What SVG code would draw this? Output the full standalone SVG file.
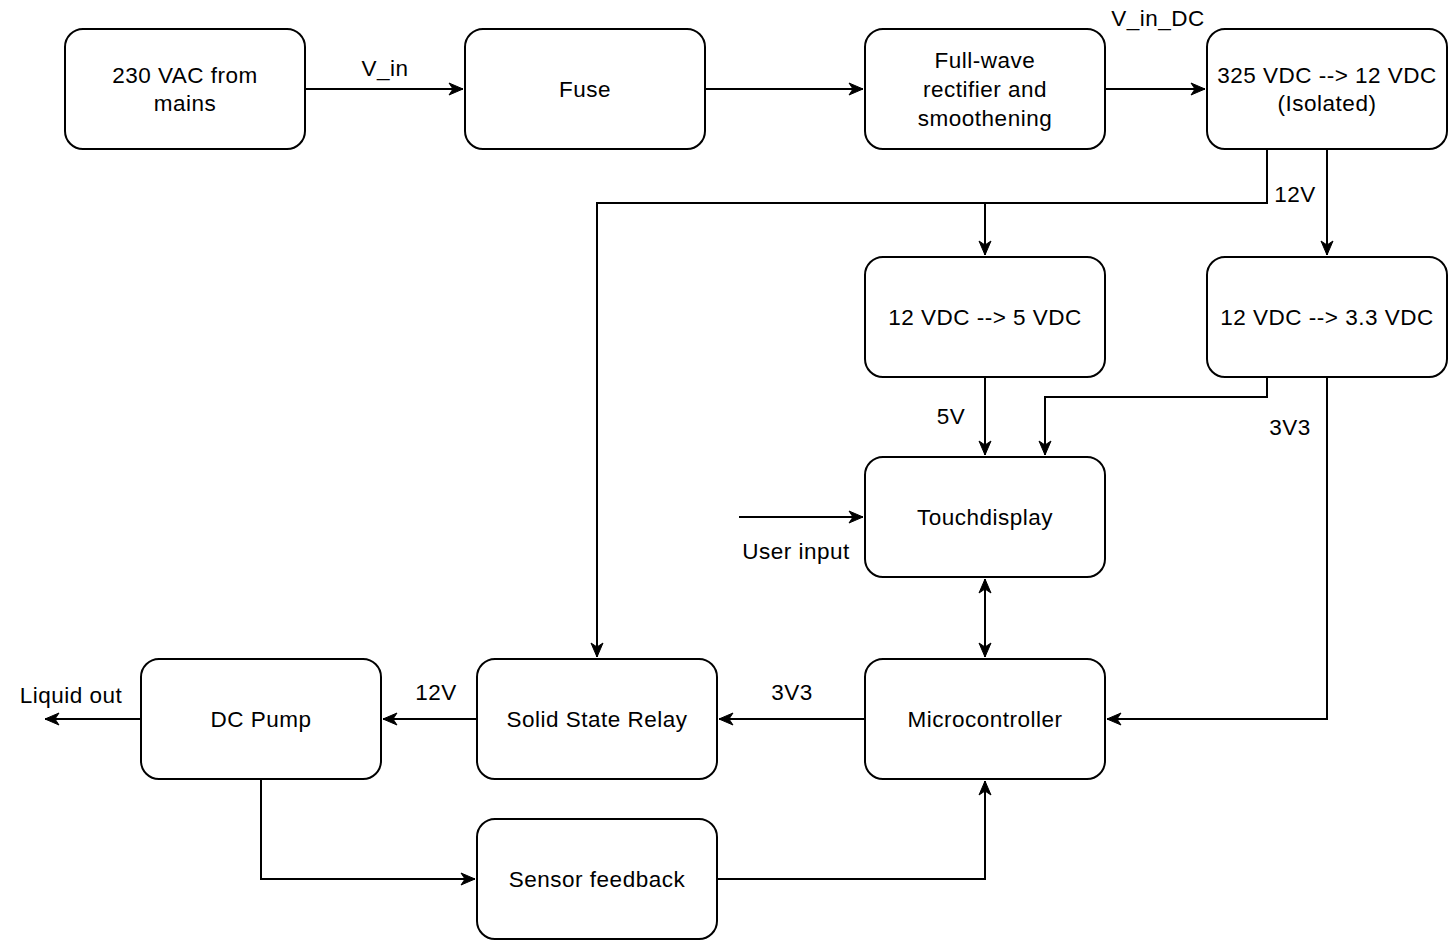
<svg xmlns="http://www.w3.org/2000/svg" width="1448" height="940" viewBox="0 0 1448 940">
<style>
.box{fill:#fff;stroke:#000;stroke-width:2}
.t{font-family:"Liberation Sans",Arial,sans-serif;font-size:22.5px;fill:#000;text-anchor:middle;letter-spacing:0.5px}
.c{fill:none;stroke:#000;stroke-width:2}
</style>
<defs>
<marker id="a" markerUnits="userSpaceOnUse" markerWidth="18" markerHeight="18" viewBox="0 0 18 18" refX="16" refY="9" orient="auto-start-reverse">
<path d="M2,3 L16,9 L2,15 L6,9 z" fill="#000" stroke="#000" stroke-width="1"/>
</marker>
</defs>
<rect width="1448" height="940" fill="#fff"/>
<g id="connectors">
<path class="c" d="M305,89 H463" marker-end="url(#a)"/>
<path class="c" d="M705,89 H863" marker-end="url(#a)"/>
<path class="c" d="M1105,89 H1205" marker-end="url(#a)"/>
<path class="c" d="M1267,149 V203 H597 V657" marker-end="url(#a)"/>
<path class="c" d="M985,203 V255" marker-end="url(#a)"/>
<path class="c" d="M1327,149 V255" marker-end="url(#a)"/>
<path class="c" d="M985,377 V455" marker-end="url(#a)"/>
<path class="c" d="M1267,377 V397 H1045 V455" marker-end="url(#a)"/>
<path class="c" d="M1327,377 V719 H1107" marker-end="url(#a)"/>
<path class="c" d="M739,517 H863" marker-end="url(#a)"/>
<path class="c" d="M985,579 V657" marker-start="url(#a)" marker-end="url(#a)"/>
<path class="c" d="M865,719 H719" marker-end="url(#a)"/>
<path class="c" d="M477,719 H383" marker-end="url(#a)"/>
<path class="c" d="M141,719 H45" marker-end="url(#a)"/>
<path class="c" d="M261,779 V879 H475" marker-end="url(#a)"/>
<path class="c" d="M717,879 H985 V781" marker-end="url(#a)"/>
<text class="t" x="385" y="76">V_in</text>
<text class="t" x="1158" y="26">V_in_DC</text>
<text class="t" x="1295" y="202">12V</text>
<text class="t" x="951" y="424">5V</text>
<text class="t" x="1290" y="435">3V3</text>
<text class="t" x="796" y="559">User input</text>
<text class="t" x="792" y="700">3V3</text>
<text class="t" x="436" y="700">12V</text>
<text class="t" x="71" y="703">Liquid out</text>
</g>
<g id="mains"><rect class="box" x="65" y="29" width="240" height="120" rx="18"/><text class="t" x="185" y="83">230 VAC from</text><text class="t" x="185" y="111">mains</text></g>
<g id="fuse"><rect class="box" x="465" y="29" width="240" height="120" rx="18"/><text class="t" x="585" y="97">Fuse</text></g>
<g id="rectifier"><rect class="box" x="865" y="29" width="240" height="120" rx="18"/><text class="t" x="985" y="68">Full-wave</text><text class="t" x="985" y="97">rectifier and</text><text class="t" x="985" y="126">smoothening</text></g>
<g id="conv12"><rect class="box" x="1207" y="29" width="240" height="120" rx="18"/><text class="t" x="1327" y="83">325 VDC --&gt; 12 VDC</text><text class="t" x="1327" y="111">(Isolated)</text></g>
<g id="conv5"><rect class="box" x="865" y="257" width="240" height="120" rx="18"/><text class="t" x="985" y="325">12 VDC --&gt; 5 VDC</text></g>
<g id="conv33"><rect class="box" x="1207" y="257" width="240" height="120" rx="18"/><text class="t" x="1327" y="325">12 VDC --&gt; 3.3 VDC</text></g>
<g id="touch"><rect class="box" x="865" y="457" width="240" height="120" rx="18"/><text class="t" x="985" y="525">Touchdisplay</text></g>
<g id="mcu"><rect class="box" x="865" y="659" width="240" height="120" rx="18"/><text class="t" x="985" y="727">Microcontroller</text></g>
<g id="ssr"><rect class="box" x="477" y="659" width="240" height="120" rx="18"/><text class="t" x="597" y="727">Solid State Relay</text></g>
<g id="pump"><rect class="box" x="141" y="659" width="240" height="120" rx="18"/><text class="t" x="261" y="727">DC Pump</text></g>
<g id="sensor"><rect class="box" x="477" y="819" width="240" height="120" rx="18"/><text class="t" x="597" y="887">Sensor feedback</text></g>
</svg>
